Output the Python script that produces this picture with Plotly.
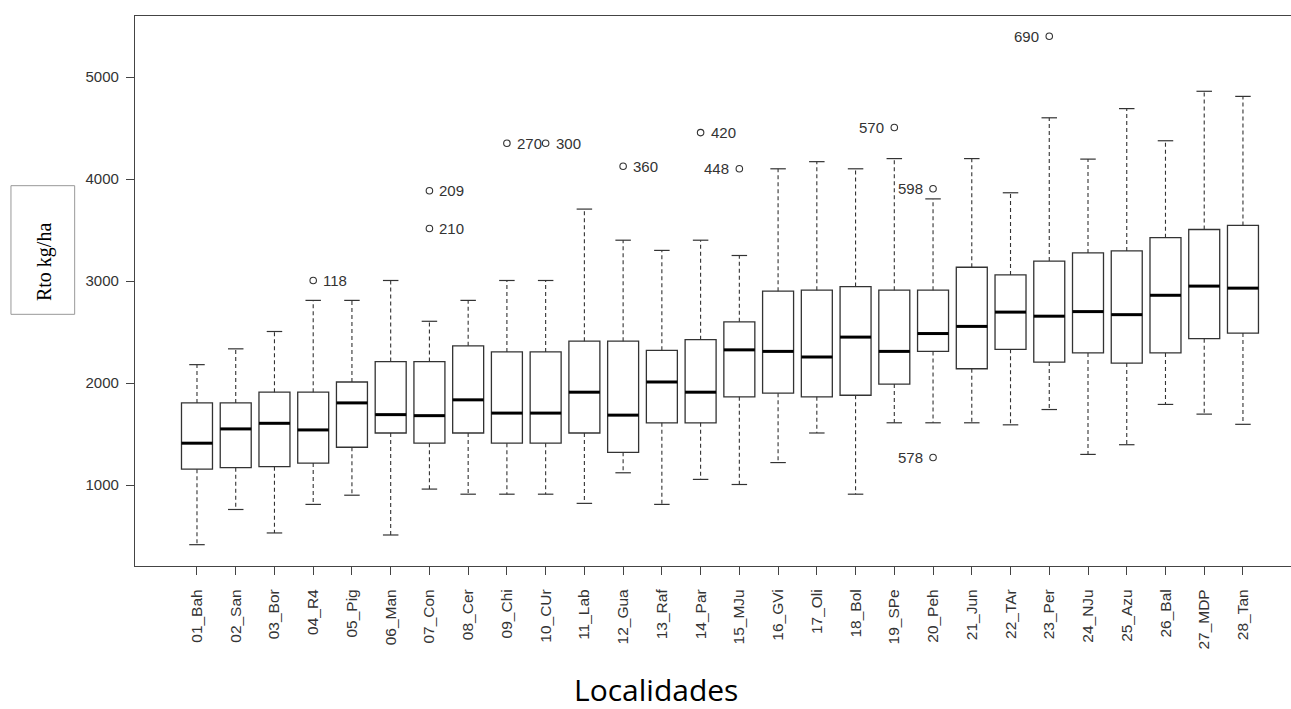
import plotly.graph_objects as go

categories = ["01_Bah", "02_San", "03_Bor", "04_R4", "05_Pig", "06_Man", "07_Con",
              "08_Cer", "09_Chi", "10_CUr", "11_Lab", "12_Gua", "13_Raf", "14_Par",
              "15_MJu", "16_GVi", "17_Oli", "18_Bol", "19_SPe", "20_Peh", "21_Jun",
              "22_TAr", "23_Per", "24_NJu", "25_Azu", "26_Bal", "27_MDP", "28_Tan"]

whisker_low = [415, 760, 530, 810, 900, 510, 960, 910, 910, 910, 820, 1120, 810, 1055,
               1005, 1220, 1510, 910, 1610, 1610, 1610, 1590, 1740, 1300, 1395, 1790, 1695, 1595]
q1 = [1155, 1170, 1180, 1215, 1370, 1510, 1410, 1510, 1410, 1410, 1510, 1320, 1610, 1610,
      1865, 1900, 1865, 1880, 1990, 2310, 2140, 2330, 2205, 2295, 2195, 2295, 2435, 2490]
median = [1410, 1550, 1605, 1540, 1805, 1690, 1680, 1835, 1705, 1705, 1910, 1685, 2010, 1910,
          2325, 2310, 2255, 2450, 2310, 2485, 2555, 2695, 2655, 2700, 2670, 2860, 2950, 2930]
q3 = [1805, 1805, 1910, 1910, 2010, 2210, 2210, 2365, 2305, 2305, 2410, 2410, 2320, 2425,
      2600, 2900, 2910, 2945, 2910, 2910, 3135, 3060, 3195, 3275, 3295, 3425, 3505, 3545]
whisker_high = [2180, 2335, 2505, 2810, 2810, 3005, 2605, 2810, 3005, 3005, 3705, 3400, 3300, 3400,
                3250, 4100, 4170, 4100, 4200, 3805, 4200, 3865, 4600, 4195, 4690, 4375, 4860, 4810]

outlier_cat = ["04_R4", "07_Con", "07_Con", "09_Chi", "10_CUr", "12_Gua", "14_Par",
               "15_MJu", "19_SPe", "20_Peh", "20_Peh", "23_Per"]
outlier_val = [3005, 3885, 3515, 4350, 4350, 4125, 4455, 4100, 4505, 3905, 1270, 5400]
outlier_lab = ["118", "209", "210", "270", "300", "360", "420", "448", "570", "598", "578", "690"]
outlier_side = ["right", "right", "right", "right", "right", "right", "right",
                "left", "left", "left", "left", "left"]

y_ticks = [1000, 2000, 3000, 4000, 5000]

pos = list(range(len(categories)))
BOXW = 0.8
CAPW = 0.4
LINE = "#333333"
SANS = "Liberation Sans, Arial"

fig = go.Figure()

# dashed whiskers and solid caps
wx, wy, cx, cy = [], [], [], []
for i in pos:
    wx += [i, i, None, i, i, None]
    wy += [q3[i], whisker_high[i], None, q1[i], whisker_low[i], None]
    cx += [i - CAPW / 2, i + CAPW / 2, None, i - CAPW / 2, i + CAPW / 2, None]
    cy += [whisker_high[i], whisker_high[i], None, whisker_low[i], whisker_low[i], None]
fig.add_trace(go.Scatter(x=wx, y=wy, mode="lines", line=dict(color=LINE, width=1.1, dash="4px,3px"),
                         hoverinfo="skip", showlegend=False))
fig.add_trace(go.Scatter(x=cx, y=cy, mode="lines", line=dict(color=LINE, width=1.2),
                         hoverinfo="skip", showlegend=False))

# boxes
fig.add_trace(go.Box(x=pos, q1=q1, median=median, q3=q3, lowerfence=q1, upperfence=q3,
                     width=BOXW, whiskerwidth=0, fillcolor="white",
                     line=dict(color=LINE, width=1.3), boxpoints=False, showlegend=False))

# thick medians
mx, my = [], []
for i in pos:
    mx += [i - BOXW / 2, i + BOXW / 2, None]
    my += [median[i], median[i], None]
fig.add_trace(go.Scatter(x=mx, y=my, mode="lines", line=dict(color="black", width=3),
                         hoverinfo="skip", showlegend=False))

# outliers
ox = [categories.index(c) for c in outlier_cat]
fig.add_trace(go.Scatter(
    x=ox, y=outlier_val, mode="markers",
    marker=dict(symbol="circle-open", size=6.5, color=LINE, line=dict(width=1.1)),
    hoverinfo="skip", showlegend=False))

annotations = []
for x, y, t, s in zip(ox, outlier_val, outlier_lab, outlier_side):
    annotations.append(dict(
        x=x, y=y, xref="x", yref="y", text=t, showarrow=False,
        xanchor="left" if s == "right" else "right", yanchor="middle",
        xshift=8 if s == "right" else -8,
        font=dict(family=SANS, size=15, color="#333333")))

annotations += [
    dict(text="Rto kg/ha", xref="paper", yref="paper", x=-0.0787, y=0.5527,
         textangle=-90, showarrow=False, xanchor="center", yanchor="middle",
         font=dict(family="Liberation Serif, Times New Roman", size=20, color="black")),
    dict(text="Localidades", xref="paper", yref="paper", x=(656 - 135) / 1156,
         y=(566 - 712) / 550, showarrow=False, xanchor="center", yanchor="bottom",
         font=dict(family="Open Sans", size=30, color="black")),
]

fig.update_layout(
    width=1291, height=709,
    margin=dict(l=135, r=0, t=16, b=143),
    plot_bgcolor="white", paper_bgcolor="white",
    showlegend=False,
    boxmode="overlay",
    xaxis=dict(range=[-1.6, 28.24], tickmode="array", tickvals=pos, ticktext=categories,
               tickangle=-90, ticks="outside", ticklen=8, tickcolor="#444", tickwidth=1,
               ticklabelstandoff=8,
               showline=True, linecolor="#444", linewidth=1.2, mirror=True,
               showgrid=False, zeroline=False,
               tickfont=dict(family=SANS, size=15.5, color="#333333")),
    yaxis=dict(range=[206, 5598], tickmode="array", tickvals=y_ticks,
               ticks="outside", ticklen=8, tickcolor="#444", tickwidth=1,
               ticklabelstandoff=4,
               showline=True, linecolor="#444", linewidth=1.2, mirror=False,
               showgrid=False, zeroline=False,
               tickfont=dict(family=SANS, size=15, color="#333333")),
    shapes=[dict(type="rect", xref="paper", yref="paper",
                 x0=-0.1073, x1=-0.0522, y0=0.4576, y1=0.6915,
                 line=dict(color="#999999", width=1), fillcolor="rgba(0,0,0,0)")],
    annotations=annotations,
)

fig.write_html("out.html", config={"displayModeBar": False},
               post_script="document.body.style.margin='0';document.body.style.overflow='hidden';")
